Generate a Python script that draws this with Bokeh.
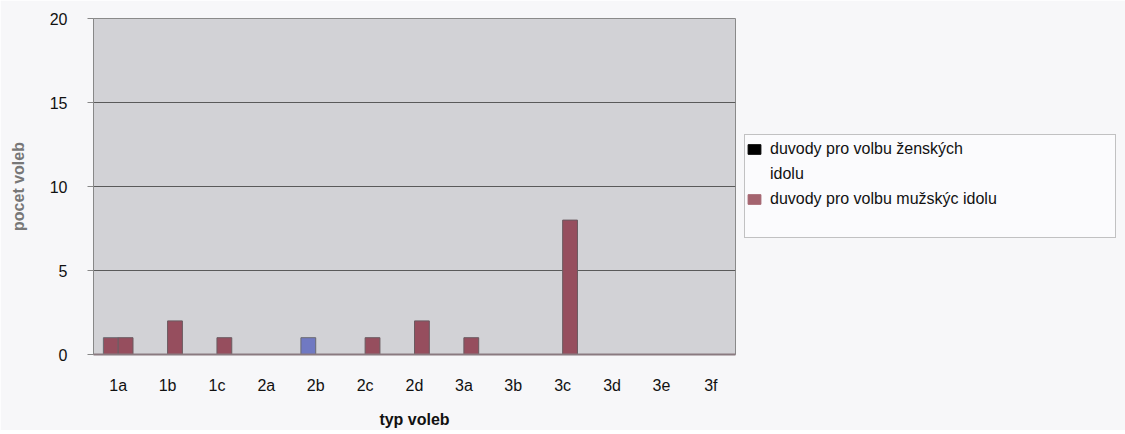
from bokeh.plotting import figure
from bokeh.models import FactorRange, ColumnDataSource, Legend, LegendItem
from bokeh.transform import dodge
from bokeh.embed import file_html
from bokeh.resources import INLINE

categories = ["1a", "1b", "1c", "2a", "2b", "2c", "2d", "3a", "3b", "3c", "3d", "3e", "3f"]
zenske = [1, 0, 0, 0, 1, 0, 0, 0, 0, 0, 0, 0, 0]
muzske = [1, 2, 1, 0, 0, 1, 2, 1, 0, 8, 0, 0, 0]
label_z_lines = ["duvody pro volbu ženských", "idolu"]
label_m = "duvody pro volbu mužskýc idolu"
y_ticks = [0, 5, 10, 15, 20]

MAUVE = "#964e5e"
BLUE = "#7079c2"
zen_colors = [MAUVE if c == "1a" else BLUE for c in categories]

src = ColumnDataSource(dict(cat=categories, z=zenske, m=muzske, zc=zen_colors))

FONT = "Liberation Sans"

p = figure(x_range=FactorRange(*categories), y_range=(0, 20),
           frame_width=642, frame_height=336,
           min_border_left=93, min_border_top=18, min_border_right=0, min_border_bottom=76,
           output_backend="svg", toolbar_location=None)
p.background_fill_color = "#d2d2d6"
p.border_fill_color = "#f7f7f9"
p.outline_line_color = "#8a8a8a"

p.vbar(x=dodge("cat", -0.15, range=p.x_range), top="z", width=0.3, source=src,
       fill_color="zc", line_color="#6a6a70", line_width=1)
p.vbar(x=dodge("cat", 0.15, range=p.x_range), top="m", width=0.3, source=src,
       fill_color=MAUVE, line_color="#6a5a60", line_width=1)

# legend swatches (drawn below the visible y range, so only the legend shows them)
dz = p.vbar(x=[categories[0]], bottom=[-3], top=[-2], width=0.3,
            fill_color="#000000", line_color="#000000")
dm = p.vbar(x=[categories[0]], bottom=[-3], top=[-2], width=0.3,
            fill_color="#a4646f", line_color="#a4646f")
blank = p.vbar(x=[categories[0]], bottom=[-3], top=[-2], width=0.3,
               fill_alpha=0, line_alpha=0)

p.xgrid.grid_line_color = None
p.ygrid.grid_line_color = "#5a5a5a"
p.ygrid.grid_line_width = 1
p.yaxis.ticker = y_ticks
p.yaxis.minor_tick_line_color = None
p.yaxis.major_tick_out = 6
p.yaxis.major_tick_in = 0
p.yaxis.major_tick_line_color = "#888888"
p.yaxis.axis_line_color = "#888888"
p.yaxis.major_label_standoff = 20
p.yaxis.axis_label = "pocet voleb"
p.yaxis.axis_label_standoff = 20
p.yaxis.axis_label_text_color = "#777777"

p.xaxis.axis_label = "typ voleb"
p.xaxis.major_tick_line_color = None
p.xaxis.axis_line_color = "#8a7a80"
p.xaxis.axis_line_width = 2
p.xaxis.major_label_standoff = 16
p.xaxis.axis_label_standoff = 14
p.xaxis.axis_label_text_color = "#111111"

for ax in (p.xaxis, p.yaxis):
    ax.major_label_text_font = FONT
    ax.major_label_text_font_size = "16px"
    ax.major_label_text_color = "#111111"
    ax.axis_label_text_font = FONT
    ax.axis_label_text_font_size = "16px"
    ax.axis_label_text_font_style = "bold"

p.x_range.range_padding = 0
p.x_range.group_padding = 0

legend = Legend(items=[LegendItem(label=label_z_lines[0], renderers=[dz]),
                       LegendItem(label=label_z_lines[1], renderers=[blank]),
                       LegendItem(label=label_m, renderers=[dm]),
                       LegendItem(label=" ", renderers=[blank])],
                location=(9, 116))
legend.label_text_font = FONT
legend.label_text_font_size = "16px"
legend.label_text_color = "#111111"
legend.glyph_width = 16
legend.glyph_height = 12
legend.label_standoff = 8
legend.label_width = 344
legend.label_height = 25
legend.spacing = 0
legend.padding = 1
legend.margin = 0
legend.border_line_color = "#888888"
legend.border_line_width = 1
legend.background_fill_color = "#fbfbfd"
legend.background_fill_alpha = 1
p.add_layout(legend, "right")

open("out.html", "w").write(file_html(p, INLINE))
